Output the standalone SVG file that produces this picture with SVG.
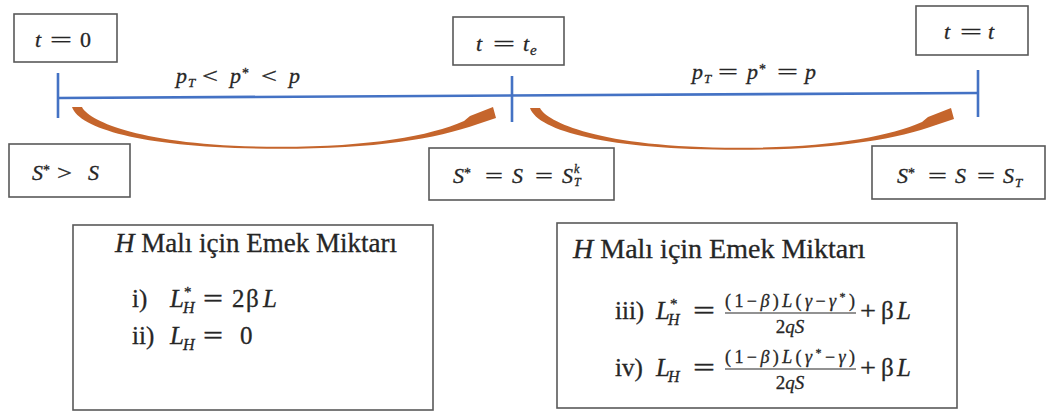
<svg xmlns="http://www.w3.org/2000/svg" width="1048" height="414" viewBox="0 0 1048 414" font-size="22">
<style>
.box{fill:#fff;stroke:#595959;stroke-width:1.6}
.m{font-family:"Liberation Serif","DejaVu Serif",serif;fill:#262626;stroke:#262626;stroke-width:0.3}
.i{font-style:italic}
.tl{stroke:#4472c4;stroke-width:2.6;fill:none}
.arc{fill:#c5652c}
.bar{stroke:#262626;stroke-width:1.2}
</style>
<defs>
  <path id="arcL" class="arc" d="M72,107 L82,107 C88,120 140,146.8 280,146.8 C370,146.8 430,136 464,121 L470,116 L493,107 L496,118 L478,124 C436,139 375,148.8 280,148.8 C150,148.8 80,130 72,107 Z"/>
</defs>
<rect width="1048" height="414" fill="#fff"/>
<g id="connectors">
  <path class="tl" d="M58,98 L978,93"/>
  <path class="tl" d="M58,73 V118 M512,76 V122 M978,70 V117"/>
  <use href="#arcL"/>
  <use href="#arcL" transform="translate(458,1)"/>
</g>
<g id="label-left">
  <text class="m i" x="176" y="83">p</text>
  <text class="m i" x="188" y="87" font-size="13">T</text>
  <text class="m" x="202" y="83" textLength="16" lengthAdjust="spacingAndGlyphs">&lt;</text>
  <text class="m i" x="230" y="83">p</text>
  <text class="m" x="242" y="78" font-size="14">*</text>
  <text class="m" x="261" y="83" textLength="16" lengthAdjust="spacingAndGlyphs">&lt;</text>
  <text class="m i" x="289" y="83">p</text>
</g>
<g id="label-right">
  <text class="m i" x="692" y="79">p</text>
  <text class="m i" x="704" y="83" font-size="13">T</text>
  <text class="m" x="718" y="79" textLength="20" lengthAdjust="spacingAndGlyphs">=</text>
  <text class="m i" x="747" y="79">p</text>
  <text class="m" x="759" y="74" font-size="14">*</text>
  <text class="m" x="777" y="79" textLength="21" lengthAdjust="spacingAndGlyphs">=</text>
  <text class="m i" x="805" y="79">p</text>
</g>
<g id="t0">
  <rect class="box" x="14" y="14" width="103" height="48"/>
  <text class="m i" x="35" y="47">t</text>
  <text class="m" x="50" y="47" textLength="22" lengthAdjust="spacingAndGlyphs">=</text>
  <text class="m" x="80" y="47">0</text>
</g>
<g id="te">
  <rect class="box" x="453" y="17" width="111" height="48"/>
  <text class="m i" x="476" y="51">t</text>
  <text class="m" x="493" y="51" textLength="22" lengthAdjust="spacingAndGlyphs">=</text>
  <text class="m i" x="523" y="51">t</text>
  <text class="m i" x="530" y="55" font-size="15">e</text>
</g>
<g id="tt">
  <rect class="box" x="916" y="6" width="112" height="49"/>
  <text class="m i" x="944" y="39">t</text>
  <text class="m" x="960" y="39" textLength="22" lengthAdjust="spacingAndGlyphs">=</text>
  <text class="m i" x="988" y="39">t</text>
</g>
<g id="s1">
  <rect class="box" x="9" y="144" width="121" height="53"/>
  <text class="m i" x="32" y="180">S</text>
  <text class="m" x="43" y="175" font-size="14">*</text>
  <text class="m" x="57" y="180" textLength="15" lengthAdjust="spacingAndGlyphs">&gt;</text>
  <text class="m i" x="88" y="180">S</text>
</g>
<g id="s2">
  <rect class="box" x="429" y="148" width="185" height="52"/>
  <text class="m i" x="453" y="183">S</text>
  <text class="m" x="464" y="178" font-size="14">*</text>
  <text class="m" x="485" y="183" textLength="18" lengthAdjust="spacingAndGlyphs">=</text>
  <text class="m i" x="512" y="183">S</text>
  <text class="m" x="535" y="183" textLength="18" lengthAdjust="spacingAndGlyphs">=</text>
  <text class="m i" x="562" y="183">S</text>
  <text class="m i" x="574" y="173" font-size="12">k</text>
  <text class="m i" x="574" y="186" font-size="12">T</text>
</g>
<g id="s3">
  <rect class="box" x="872" y="146" width="173" height="53"/>
  <text class="m i" x="897" y="183">S</text>
  <text class="m" x="908" y="178" font-size="14">*</text>
  <text class="m" x="928" y="183" textLength="19" lengthAdjust="spacingAndGlyphs">=</text>
  <text class="m i" x="955" y="183">S</text>
  <text class="m" x="977" y="183" textLength="18" lengthAdjust="spacingAndGlyphs">=</text>
  <text class="m i" x="1003" y="183">S</text>
  <text class="m i" x="1015" y="187" font-size="13">T</text>
</g>
<g id="b1" font-size="25">
  <rect class="box" x="73" y="225" width="360" height="185"/>
  <text class="m" x="115" y="252" font-size="27" stroke-width="0.1"><tspan class="i">H</tspan> Malı için Emek Miktarı</text>
  <text class="m" x="132" y="307">i)</text>
  <text class="m i" x="170" y="307">L</text>
  <text class="m" x="184" y="297" font-size="15">*</text>
  <text class="m i" x="183" y="313" font-size="16">H</text>
  <text class="m" x="203" y="307" textLength="20" lengthAdjust="spacingAndGlyphs">=</text>
  <text class="m" x="232" y="307">2</text>
  <text class="m" x="246" y="307">β</text>
  <text class="m i" x="263" y="307">L</text>
  <text class="m" x="132" y="344">ii)</text>
  <text class="m i" x="170" y="344">L</text>
  <text class="m i" x="183" y="350" font-size="16">H</text>
  <text class="m" x="203" y="344" textLength="20" lengthAdjust="spacingAndGlyphs">=</text>
  <text class="m" x="240" y="344">0</text>
</g>
<g id="b2" font-size="25">
  <rect class="box" x="557" y="223" width="400" height="185"/>
  <text class="m" x="573" y="258" font-size="28" stroke-width="0.1"><tspan class="i">H</tspan> Malı için Emek Miktarı</text>
  <text class="m" x="615" y="319">iii)</text>
  <text class="m i" x="656" y="319">L</text>
  <text class="m" x="670" y="309" font-size="15">*</text>
  <text class="m i" x="668" y="325" font-size="16">H</text>
  <text class="m" x="693" y="319" textLength="22" lengthAdjust="spacingAndGlyphs">=</text>
  <text class="m" x="725" y="307" font-size="18" textLength="130" lengthAdjust="spacing">(1−<tspan class="i">β</tspan>)<tspan class="i">L</tspan>(<tspan class="i">γ</tspan>−<tspan class="i">γ</tspan><tspan font-size="12" dy="-6">*</tspan><tspan dy="6">)</tspan></text>
  <line class="bar" x1="725" y1="313" x2="856" y2="313"/>
  <text class="m" x="790" y="333" font-size="19" text-anchor="middle">2<tspan class="i">qS</tspan></text>
  <text class="m" x="860" y="319" textLength="16" lengthAdjust="spacingAndGlyphs">+</text>
  <text class="m" x="881" y="319">β</text>
  <text class="m i" x="897" y="319">L</text>
  <text class="m" x="615" y="376">iv)</text>
  <text class="m i" x="656" y="376">L</text>
  <text class="m i" x="668" y="382" font-size="16">H</text>
  <text class="m" x="693" y="376" textLength="22" lengthAdjust="spacingAndGlyphs">=</text>
  <text class="m" x="725" y="363" font-size="18" textLength="130" lengthAdjust="spacing">(1−<tspan class="i">β</tspan>)<tspan class="i">L</tspan>(<tspan class="i">γ</tspan><tspan font-size="12" dy="-6">*</tspan><tspan dy="6">−</tspan><tspan class="i">γ</tspan>)</text>
  <line class="bar" x1="725" y1="369" x2="856" y2="369"/>
  <text class="m" x="790" y="389" font-size="19" text-anchor="middle">2<tspan class="i">qS</tspan></text>
  <text class="m" x="860" y="376" textLength="16" lengthAdjust="spacingAndGlyphs">+</text>
  <text class="m" x="881" y="376">β</text>
  <text class="m i" x="897" y="376">L</text>
</g>
</svg>
